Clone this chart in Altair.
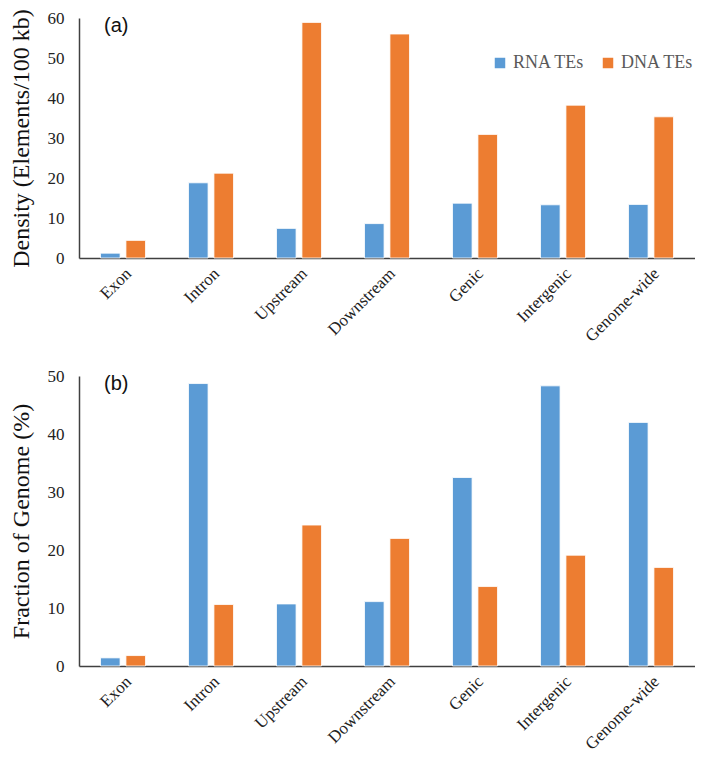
import altair as alt
import pandas as pd

regions = ["Exon", "Intron", "Upstream", "Downstream", "Genic", "Intergenic", "Genome-wide"]
series = ["RNA TEs", "DNA TEs"]
colors = ["#5B9BD5", "#ED7D31"]

density_rna = [1.2, 18.8, 7.4, 8.6, 13.7, 13.3, 13.4]
density_dna = [4.4, 21.2, 58.9, 56.0, 30.9, 38.2, 35.3]
fraction_rna = [1.4, 48.7, 10.7, 11.1, 32.5, 48.3, 42.0]
fraction_dna = [1.8, 10.6, 24.3, 22.0, 13.7, 19.1, 17.0]


def long_df(rna, dna):
    rows = []
    for i, r in enumerate(regions):
        rows.append({"region": r, "series": series[0], "value": rna[i]})
        rows.append({"region": r, "series": series[1], "value": dna[i]})
    return pd.DataFrame(rows)


SERIF = "Liberation Serif"
W = 616


def panel(df, ymax, ytitle, label, height, show_legend):
    legend = None
    if show_legend:
        legend = alt.Legend(
            title=None, orient="none", legendX=412, legendY=36, direction="horizontal",
            symbolType="square", symbolSize=110, symbolStrokeWidth=0,
            labelFont=SERIF, labelFontSize=18, labelColor="#595959",
            labelOffset=4, columnPadding=14,
        )
    bars = alt.Chart(df).mark_bar(stroke="white", strokeWidth=0.8).encode(
        x=alt.X("region:N", sort=regions, title=None,
                scale=alt.Scale(paddingInner=0, paddingOuter=0),
                axis=alt.Axis(labelAngle=-45, labelFont=SERIF, labelFontSize=17,
                              labelColor="#222222", ticks=False, labelPadding=7,
                              domainColor="#404040", domainWidth=1.5)),
        xOffset=alt.XOffset("series:N", sort=series,
                            scale=alt.Scale(paddingInner=0.23, paddingOuter=0.846)),
        y=alt.Y("value:Q", title=ytitle,
                scale=alt.Scale(domain=[0, ymax], nice=False),
                axis=alt.Axis(values=list(range(0, ymax + 1, 10)), grid=False, ticks=False,
                              labelFont=SERIF, labelFontSize=17, labelColor="#222222",
                              labelPadding=15, titleFont=SERIF, titleFontSize=24,
                              titleFontWeight="normal", titleColor="#111111",
                              titlePadding=14, domainColor="#404040", domainWidth=1.5)),
        color=alt.Color("series:N", sort=series,
                        scale=alt.Scale(domain=series, range=colors), legend=legend),
    )
    lab = alt.Chart(pd.DataFrame({"t": [label]})).mark_text(
        font="Liberation Sans", fontSize=20, align="left", baseline="middle", color="#111111"
    ).encode(x=alt.value(25), y=alt.value(8), text="t:N")
    return alt.layer(bars, lab).properties(width=W, height=height)


top = panel(long_df(density_rna, density_dna), 60, "Density (Elements/100 kb)", "(a)", 240, True)
bottom = panel(long_df(fraction_rna, fraction_dna), 50, "Fraction of Genome (%)", "(b)", 290, False)

chart = alt.vconcat(top, bottom, spacing=22).resolve_legend(color="independent").resolve_scale(
    color="independent").configure(padding=0).configure_view(stroke=None, strokeWidth=0)

chart.save("out.html", embed_options={"renderer": "svg", "actions": False})
